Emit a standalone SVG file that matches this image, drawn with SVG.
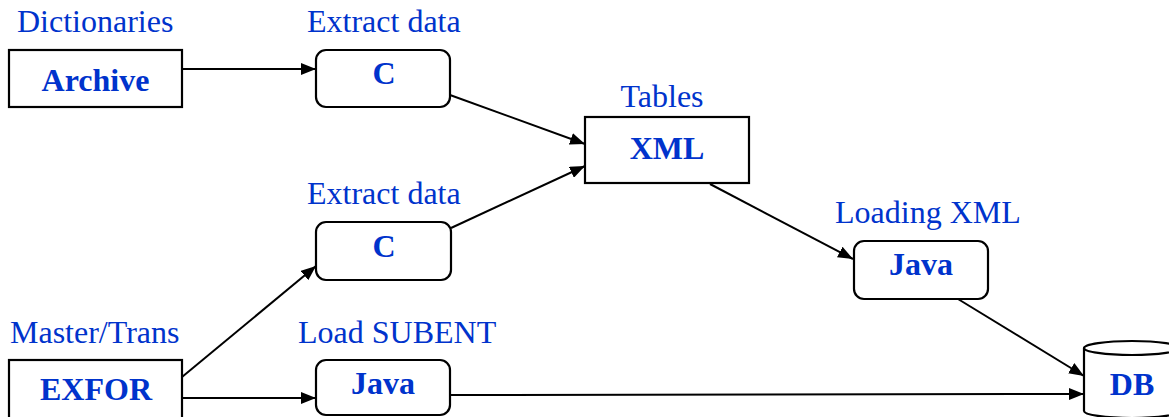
<svg xmlns="http://www.w3.org/2000/svg" width="1169" height="417" viewBox="0 0 1169 417">
<style>
.box{fill:#fff;stroke:#000;stroke-width:2.2}
.lbl{font-family:"Liberation Serif","Times New Roman",serif;font-size:32px;fill:#0033cc}
.nm{font-family:"Liberation Serif","Times New Roman",serif;font-size:32px;font-weight:bold;fill:#0033cc;text-anchor:middle}
.ln{stroke:#000;stroke-width:2;fill:none;marker-end:url(#ah)}
</style>
<defs>
<marker id="ah" markerUnits="userSpaceOnUse" markerWidth="15" markerHeight="12" refX="15" refY="6" orient="auto">
<path d="M0,0 L15,6 L0,12 Z" fill="#000"/>
</marker>
</defs>
<rect width="1169" height="417" fill="#fff"/>
<g id="connectors">
<line class="ln" x1="182" y1="69" x2="316" y2="69"/>
<line class="ln" x1="450" y1="95" x2="585" y2="144"/>
<line class="ln" x1="451" y1="228" x2="585" y2="166"/>
<line class="ln" x1="182" y1="377" x2="316" y2="266"/>
<line class="ln" x1="182" y1="398" x2="316" y2="398"/>
<line class="ln" x1="710" y1="184" x2="853" y2="259"/>
<line class="ln" x1="958" y1="299" x2="1084" y2="376"/>
<line class="ln" x1="450" y1="395" x2="1084" y2="394"/>
</g>
<g id="archive">
<text class="lbl" x="17" y="32">Dictionaries</text>
<rect class="box" x="9" y="50" width="173" height="57"/>
<text class="nm" x="95.5" y="91">Archive</text>
</g>
<g id="c1">
<text class="lbl" x="307" y="32">Extract data</text>
<rect class="box" x="316" y="50" width="134" height="57" rx="10"/>
<text class="nm" x="384" y="84">C</text>
</g>
<g id="xml">
<text class="lbl" x="662" y="107" text-anchor="middle">Tables</text>
<rect class="box" x="585" y="117" width="164" height="66"/>
<text class="nm" x="667" y="159">XML</text>
</g>
<g id="c2">
<text class="lbl" x="307" y="204">Extract data</text>
<rect class="box" x="316" y="222" width="135" height="58" rx="10"/>
<text class="nm" x="384" y="257">C</text>
</g>
<g id="java_loading">
<text class="lbl" x="835" y="223">Loading XML</text>
<rect class="box" x="854" y="241" width="134" height="58" rx="10"/>
<text class="nm" x="921" y="275">Java</text>
</g>
<g id="exfor">
<text class="lbl" x="10" y="343">Master/Trans</text>
<rect class="box" x="9" y="360" width="173" height="62"/>
<text class="nm" x="96" y="400">EXFOR</text>
</g>
<g id="java_subent">
<text class="lbl" x="298" y="343">Load SUBENT</text>
<rect class="box" x="316" y="360" width="134" height="55" rx="10"/>
<text class="nm" x="383" y="394">Java</text>
</g>
<g id="db">
<path class="box" d="M1084,348 L1084,411 A48,7 0 0 0 1180,411 L1180,348"/>
<ellipse class="box" cx="1132" cy="348" rx="48" ry="7"/>
<text class="nm" x="1132" y="395">DB</text>
</g>
</svg>
